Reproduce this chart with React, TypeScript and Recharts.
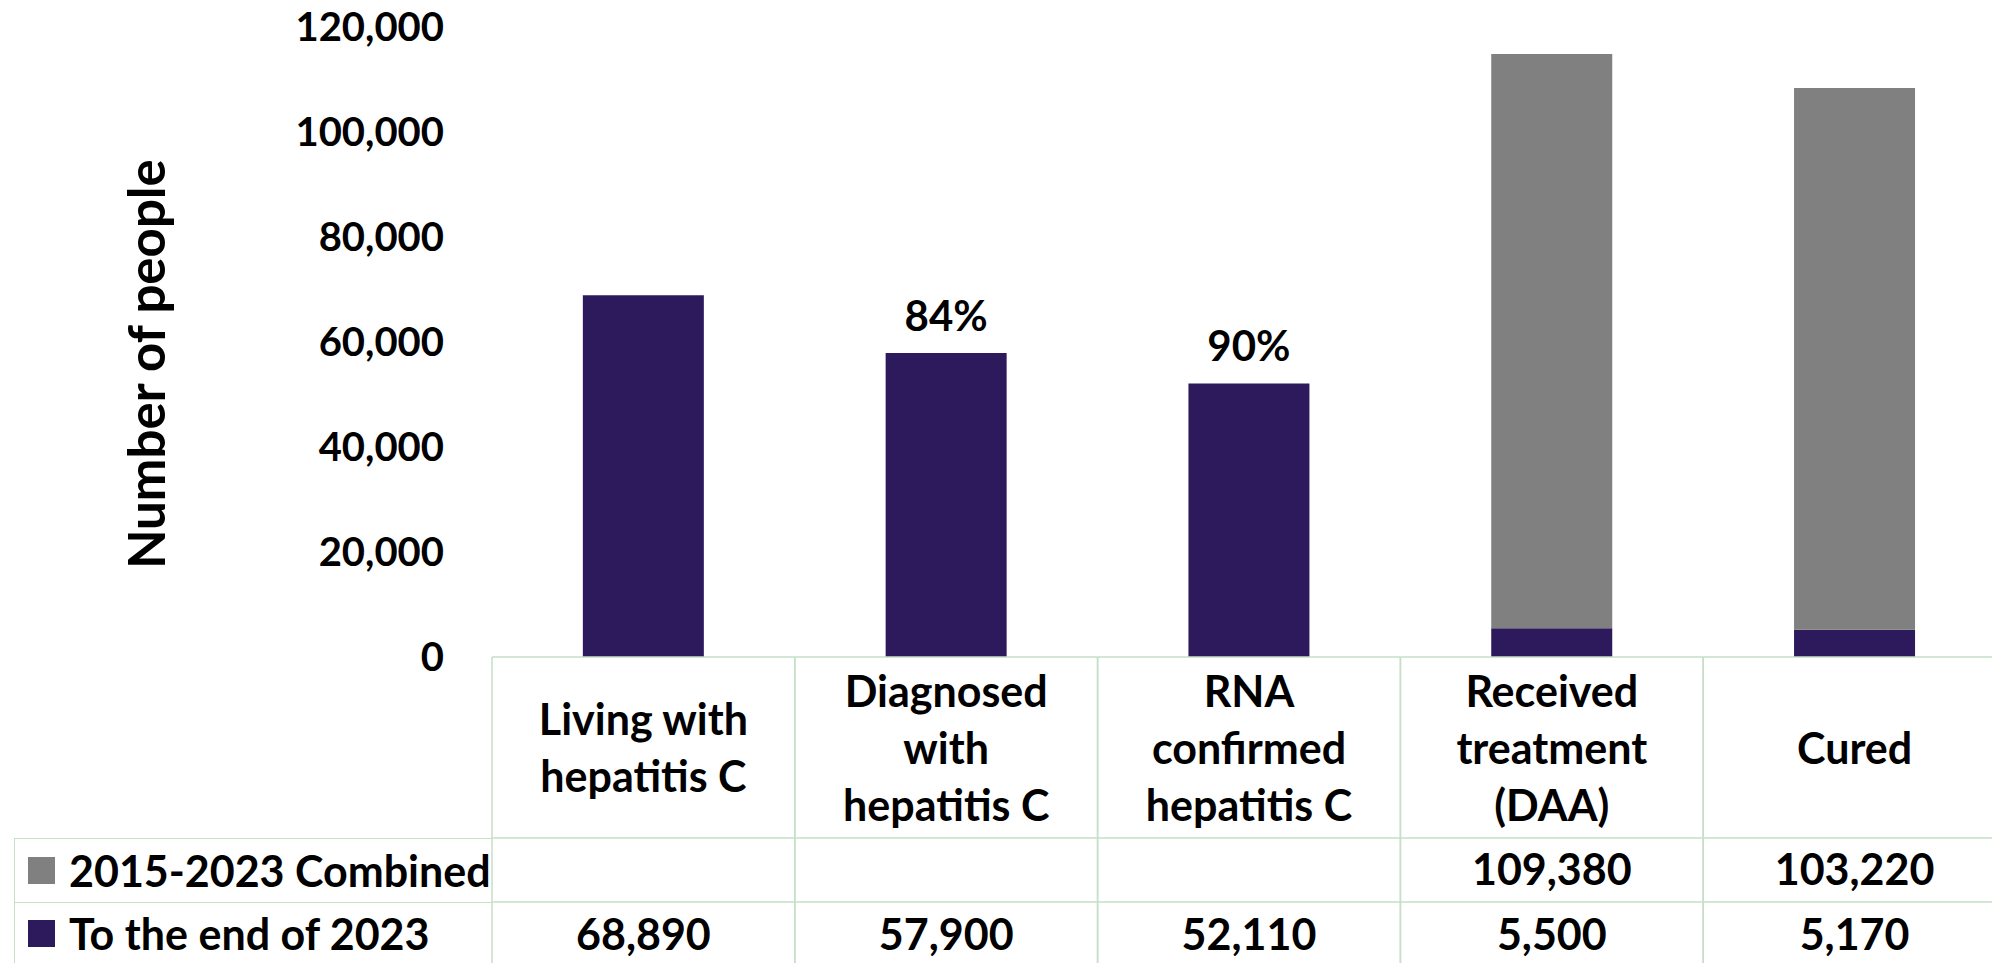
import { Bar, BarChart, LabelList, Legend, XAxis, YAxis } from "recharts";

const categories = [
  "Living with\nhepatitis C",
  "Diagnosed\nwith\nhepatitis C",
  "RNA\nconfirmed\nhepatitis C",
  "Received\ntreatment\n(DAA)",
  "Cured",
];
const toEnd2023 = [68890, 57900, 52110, 5500, 5170];
const combined2015to2023 = [null, null, null, 109380, 103220];
const stepLabels = ["", "84%", "90%", "", ""];
const yTicks = [0, 20000, 40000, 60000, 80000, 100000, 120000];

const seriesNames = {
  combined: "2015-2023 Combined",
  end2023: "To the end of 2023",
};

const PURPLE = "#2c1a5c";
const GRAY = "#808080";
const GRID = "#c6dfc6";
const FONT = "Lato, 'Open Sans', sans-serif";

const W = 1992;
const H = 963;
const LEFT = 492;
const RIGHT = -14;
const BAND = (W - LEFT - RIGHT) / categories.length;

const data = categories.map((name, i) => ({
  name,
  end2023: toEnd2023[i],
  combined: combined2015to2023[i],
}));

function fmt(v: number) {
  return v.toLocaleString("en-US");
}

function TableTick(props: any) {
  const { x, y, payload } = props;
  const i = payload.index;
  const half = BAND / 2;
  const lines = String(payload.value).split("\n");
  const step = 57;
  const first = y + 90 - ((lines.length - 1) * step) / 2;
  const rowVals = [combined2015to2023[i], toEnd2023[i]];
  const rowMid = [y + 211, y + 276];

  return (
    <g>
      <line x1={x - half} x2={x - half} y1={y} y2={y + 320} stroke={GRID} strokeWidth={1.5} />
      <line x1={x + half} x2={x + half} y1={y} y2={y + 320} stroke={GRID} strokeWidth={1.5} />
      <line x1={x - half} x2={x + half} y1={y} y2={y} stroke={GRID} strokeWidth={1.5} />
      <line x1={x - half} x2={x + half} y1={y + 181} y2={y + 181} stroke={GRID} strokeWidth={1.5} />
      <line x1={x - half} x2={x + half} y1={y + 245} y2={y + 245} stroke={GRID} strokeWidth={1.5} />
      {lines.map((line, k) => (
        <text
          key={k}
          x={x}
          y={first + k * step}
          textAnchor="middle"
          dominantBaseline="central"
          fontFamily={FONT}
          fontWeight={700}
          fontSize={43}
          fill="#000"
        >
          {line}
        </text>
      ))}
      {rowVals.map((v, r) =>
        v == null ? null : (
          <text
            key={"v" + r}
            x={x}
            y={rowMid[r]}
            textAnchor="middle"
            dominantBaseline="central"
            fontFamily={FONT}
            fontWeight={700}
            fontSize={43}
            fill="#000"
          >
            {fmt(v)}
          </text>
        ),
      )}
    </g>
  );
}

function StepLabel(props: any) {
  const { x, y, width, index } = props;
  const text = stepLabels[index];
  if (!text) return null;
  return (
    <text
      x={x + width / 2}
      y={y - 38}
      textAnchor="middle"
      dominantBaseline="central"
      fontFamily={FONT}
      fontWeight={700}
      fontSize={42}
      fill="#000"
    >
      {text}
    </text>
  );
}

function YTitle(props: any) {
  const vb = props.viewBox || { x: 0, y: 27, width: LEFT, height: 630 };
  const cx = vb.x + 145;
  const cy = vb.y + vb.height / 2 + 22;
  return (
    <text
      x={cx}
      y={cy}
      transform={`rotate(-90, ${cx}, ${cy})`}
      textAnchor="middle"
      dominantBaseline="central"
      fontFamily={FONT}
      fontWeight={700}
      fontSize={51}
      fill="#000"
    >
      Number of people
    </text>
  );
}

function LegendTable() {
  const rows = [
    { name: seriesNames.combined, color: GRAY, h: 64 },
    { name: seriesNames.end2023, color: PURPLE, h: 61 },
  ];
  return (
    <div style={{ borderLeft: `1.5px solid ${GRID}`, height: 125 }}>
      {rows.map((r) => (
        <div
          key={r.name}
          style={{
            height: r.h,
            borderTop: `1.5px solid ${GRID}`,
            display: "flex",
            alignItems: "center",
            boxSizing: "border-box",
            paddingLeft: 13,
          }}
        >
          <span
            style={{
              width: 27,
              height: 27,
              background: r.color,
              display: "inline-block",
              marginRight: 14,
            }}
          />
          <span
            style={{
              fontFamily: FONT,
              fontWeight: 700,
              fontSize: 43,
              color: "#000",
              whiteSpace: "nowrap",
            }}
          >
            {r.name}
          </span>
        </div>
      ))}
    </div>
  );
}

export default function App() {
  return (
    <div style={{ position: "absolute", left: 0, top: 0, background: "#fff" }}>
      <BarChart
        width={W}
        height={H}
        data={data}
        margin={{ top: 27, right: RIGHT, left: 0, bottom: 0 }}
        barCategoryGap="30%"
      >
        <XAxis
          dataKey="name"
          height={H - 657}
          axisLine={false}
          tickLine={false}
          tickSize={0}
          tickMargin={0}
          interval={0}
          tick={<TableTick />}
        />
        <YAxis
          width={LEFT}
          domain={[0, 120000]}
          ticks={yTicks}
          axisLine={false}
          tickLine={false}
          tickSize={0}
          tickMargin={48}
          tickFormatter={(v) => fmt(Number(v))}
          tick={{ fontFamily: FONT, fontWeight: 700, fontSize: 40, fill: "#000" }}
          label={<YTitle />}
        />
        <Legend
          layout="horizontal"
          verticalAlign="middle"
          align="center"
          wrapperStyle={{ left: 14, top: 838, width: 478, height: 125 }}
          content={() => <LegendTable />}
        />
        <Bar
          dataKey="end2023"
          name={seriesNames.end2023}
          stackId="a"
          fill={PURPLE}
          isAnimationActive={false}
        >
          <LabelList dataKey="end2023" content={<StepLabel />} />
        </Bar>
        <Bar
          dataKey="combined"
          name={seriesNames.combined}
          stackId="a"
          fill={GRAY}
          isAnimationActive={false}
        />
      </BarChart>
    </div>
  );
}
